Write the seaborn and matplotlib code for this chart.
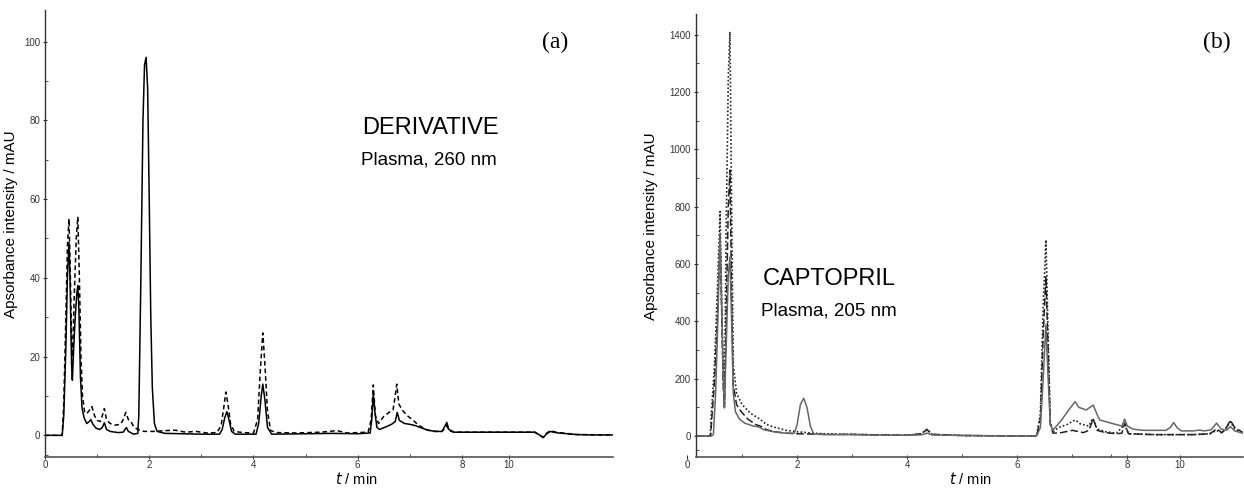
import numpy as np
import pandas as pd
import matplotlib
matplotlib.use("Agg")
import matplotlib.pyplot as plt
import seaborn as sns

# ---------------- data: panel (a) DERIVATIVE, plasma 260 nm ----------------
a_solid_t = [0.00, 0.33, 0.36, 0.40, 0.43, 0.46, 0.48, 0.51, 0.525, 0.55, 0.58, 0.61, 0.63, 0.65, 0.68,
             0.71, 0.75, 0.80, 0.85, 0.88, 0.92, 0.98, 1.05, 1.10, 1.14, 1.18, 1.25, 1.40, 1.50, 1.56,
             1.60, 1.70, 1.78, 1.80, 1.84, 1.88, 1.91, 1.94, 1.97, 2.00, 2.03, 2.06, 2.10, 2.15, 2.30,
             3.00, 3.35, 3.40, 3.45, 3.49, 3.53, 3.58, 3.65, 4.05, 4.10, 4.15, 4.18, 4.22, 4.27, 4.35,
             5.00, 5.50, 6.00, 6.24, 6.27, 6.30, 6.33, 6.37, 6.42, 6.55, 6.65, 6.72, 6.76, 6.80, 6.90,
             7.00, 7.10, 7.20, 7.35, 7.50, 7.62, 7.68, 7.71, 7.75, 7.85, 8.50, 9.00, 9.40, 9.50, 9.56,
             9.62, 9.70, 9.76, 9.85, 10.2, 10.5, 10.9]
a_solid_y = [0, 0, 5, 22, 40, 49, 40, 18, 14, 22, 30, 36, 38, 32, 15,
             7, 4.5, 3, 3.5, 4, 2.8, 1.8, 1.5, 2, 3.2, 1.5, 1.0, 0.7, 0.8, 2.0,
             1.0, 0.3, 0.5, 5, 40, 80, 94, 96, 88, 60, 30, 12, 3, 1, 0.5,
             0.3, 0.3, 1.5, 4.5, 6, 4, 1, 0.3, 0.3, 3, 10, 13, 9, 2, 0.3,
             0.4, 0.5, 0.4, 0.6, 4, 10.4, 6, 2, 1.5, 2.2, 2.8, 3.5, 5.8, 3.8, 3.0,
             2.8, 2.5, 2.0, 1.3, 1.0, 1.0, 2.5, 3.3, 1.5, 0.8, 0.8, 0.8, 0.8, 0.0, -0.6,
             0.3, 1.0, 0.8, 0.6, 0.2, 0.1, 0.1]

a_dash_t = [0.00, 0.33, 0.36, 0.40, 0.43, 0.46, 0.48, 0.51, 0.53, 0.56, 0.60, 0.63, 0.66, 0.69, 0.72,
            0.76, 0.80, 0.86, 0.90, 0.95, 1.00, 1.06, 1.10, 1.14, 1.18, 1.25, 1.35, 1.45, 1.50, 1.55,
            1.60, 1.65, 1.70, 1.78, 1.90, 2.10, 2.30, 2.50, 2.70, 2.90, 3.10, 3.30, 3.38, 3.43, 3.47,
            3.51, 3.56, 3.63, 3.80, 4.00, 4.08, 4.13, 4.18, 4.22, 4.27, 4.33, 4.45, 4.80, 5.30, 5.60,
            5.80, 6.20, 6.26, 6.30, 6.34, 6.40, 6.50, 6.60, 6.68, 6.72, 6.75, 6.79, 6.85, 6.95, 7.05,
            7.15, 7.30, 7.45, 7.62, 7.68, 7.71, 7.75, 7.85, 8.50, 9.40, 9.50, 9.56, 9.62, 9.70, 9.80,
            10.2, 10.9]
a_dash_y = [0, 0, 8, 30, 48, 55, 45, 24, 20, 35, 50, 55.5, 40, 20, 10,
            6, 5.5, 6.5, 7.3, 5, 3.8, 3.5, 5, 6.8, 4, 3.0, 2.6, 2.8, 4, 5.8,
            4, 3.5, 2.2, 1.5, 1.0, 1.0, 1.2, 1.3, 0.8, 1.0, 0.6, 0.7, 2.5, 7, 11,
            8, 3, 1, 0.7, 0.6, 4, 16, 26, 18, 6, 1.2, 0.7, 0.6, 0.8, 1.2,
            0.6, 0.8, 4, 12.8, 5, 3, 4.8, 5.8, 6.5, 10, 13, 8, 6.5, 5, 4,
            2.8, 1.5, 1.0, 1.0, 2.0, 2.5, 1.2, 0.8, 0.8, 0.8, 0.0, -0.5, 0.5, 1.2, 0.8,
            0.2, 0.1]

# ---------------- data: panel (b) CAPTOPRIL, plasma 205 nm ----------------
b_solid_t = [0.16, 0.44, 0.48, 0.52, 0.56, 0.60, 0.63, 0.66, 0.68, 0.71, 0.75, 0.78, 0.81, 0.84, 0.88,
             0.95, 1.05, 1.20, 1.30, 1.40, 1.60, 1.80, 1.95, 2.00, 2.06, 2.12, 2.18, 2.24, 2.30, 2.50,
             3.00, 3.50, 4.00, 4.25, 4.36, 4.45, 5.00, 6.00, 6.35, 6.42, 6.47, 6.52, 6.56, 6.60, 6.65,
             6.80, 6.95, 7.05, 7.12, 7.25, 7.38, 7.45, 7.50, 7.65, 7.80, 7.90, 7.95, 8.00, 8.10, 8.30,
             8.70, 8.78, 8.84, 8.90, 8.98, 9.20, 9.30, 9.40, 9.52, 9.62, 9.70, 9.80, 9.87, 9.95, 10.1]
b_solid_y = [0, 0, 5, 150, 400, 708, 450, 200, 98, 300, 560, 625, 400, 150, 85,
             60, 45, 35, 32, 22, 14, 10, 10, 40, 110, 132, 100, 35, 8, 5,
             5, 3, 3, 4, 10, 4, 2, 0, 0, 30, 200, 387, 200, 40, 21,
             55, 95, 120, 100, 91, 108, 75, 56, 48, 40, 35, 59, 35, 24, 20,
             20, 30, 47, 30, 18, 18, 21, 18, 22, 45, 25, 20, 33, 18, 10]

b_dash_t = [0.16, 0.43, 0.45, 0.50, 0.55, 0.60, 0.63, 0.66, 0.68, 0.71, 0.75, 0.78, 0.81, 0.84, 0.90,
            0.96, 1.10, 1.25, 1.33, 1.45, 1.60, 1.80, 2.00, 2.50, 3.00, 3.50, 4.00, 4.25, 4.36, 4.45,
            5.00, 6.00, 6.35, 6.42, 6.47, 6.52, 6.56, 6.60, 6.65, 6.80, 7.00, 7.20, 7.30, 7.38, 7.45,
            7.60, 7.80, 7.90, 7.95, 8.02, 8.50, 9.20, 9.50, 9.62, 9.72, 9.80, 9.87, 9.95, 10.1]
b_dash_y = [0, 0, 60, 190, 400, 700, 430, 160, 100, 400, 800, 928, 500, 180, 110,
            91, 60, 40, 35, 22, 15, 10, 8, 6, 6, 4, 3, 8, 22, 6,
            2, 0, 0, 60, 350, 555, 300, 40, 10, 12, 20, 12, 20, 60, 20,
            12, 8, 10, 45, 8, 5, 5, 8, 25, 12, 30, 55, 30, 12]

b_dot_t = [0.16, 0.42, 0.45, 0.50, 0.55, 0.60, 0.63, 0.66, 0.68, 0.71, 0.75, 0.78, 0.81, 0.84, 0.90,
           1.00, 1.15, 1.30, 1.45, 1.60, 1.80, 2.00, 2.30, 2.60, 3.00, 3.50, 4.00, 4.25, 4.36, 4.45,
           5.00, 6.00, 6.35, 6.42, 6.47, 6.52, 6.56, 6.60, 6.65, 6.75, 6.90, 7.05, 7.15, 7.30, 7.37,
           7.45, 7.60, 7.80, 7.95, 8.02, 8.50, 9.20, 9.50, 9.62, 9.72, 9.80, 9.87, 9.95, 10.1]
b_dot_y = [0, 0, 100, 250, 500, 783, 480, 200, 110, 700, 1250, 1410, 800, 250, 150,
           110, 80, 62, 40, 30, 20, 15, 10, 7, 6, 4, 3, 8, 24, 6,
           2, 0, 0, 80, 450, 684, 350, 50, 15, 30, 40, 56, 42, 35, 62,
           25, 15, 10, 40, 8, 5, 5, 8, 20, 10, 30, 50, 25, 10]

# axis tick labels (the "10" label sits where the original figure prints it)
a_xticks = [0, 2, 4, 6, 8, 8.9]
b_xticks = [0, 2, 4, 6, 8, 8.95]
xtick_labels = ["0", "2", "4", "6", "8", "10"]
a_yticks = [0, 20, 40, 60, 80, 100]
b_yticks = [0, 200, 400, 600, 800, 1000, 1200, 1400]

# ---------------- figure ----------------
sns.set_style("ticks")
plt.rcParams["font.family"] = ["Liberation Sans", "DejaVu Sans"]
plt.rcParams["text.color"] = "black"
plt.rcParams["axes.labelcolor"] = "black"

fig = plt.figure(figsize=(12.44, 4.88), dpi=100)
ax_a = fig.add_axes([45 / 1244, 31 / 488, 568 / 1244, 447 / 488])
ax_b = fig.add_axes([687 / 1244, 31 / 488, 556 / 1244, 443 / 488])


def draw(ax, t, y, color, ls, lw, dashes=None):
    df = pd.DataFrame({"t": t, "y": y})
    sns.lineplot(data=df, x="t", y="y", ax=ax, color=color, linewidth=lw,
                 estimator=None, sort=False, linestyle=ls)
    line = ax.get_lines()[-1]
    if dashes is not None:
        line.set_dashes(dashes)


# panel a
draw(ax_a, a_dash_t, a_dash_y, "black", "--", 1.1, (3, 2))
draw(ax_a, a_solid_t, a_solid_y, "black", "-", 1.1)

# panel b
draw(ax_b, b_dot_t, b_dot_y, "#222222", ":", 1.2, (1, 1.3))
draw(ax_b, b_dash_t, b_dash_y, "#222222", "--", 1.1, (5, 2))
draw(ax_b, b_solid_t, b_solid_y, "#666666", "-", 1.1)

for ax in (ax_a, ax_b):
    ax.spines["top"].set_visible(False)
    ax.spines["right"].set_visible(False)
    ax.spines["left"].set_color("#333333")
    ax.spines["bottom"].set_color("#555555")
    ax.spines["left"].set_linewidth(1.0)
    ax.spines["bottom"].set_linewidth(1.2)
    ax.tick_params(axis="both", which="major", labelsize=7, colors="#333333",
                   length=3, width=0.8, direction="inout", pad=2)
    ax.tick_params(axis="x", which="major", pad=1)
    ax.tick_params(axis="both", which="minor", length=2, width=0.6,
                   direction="in", color="#333333")
    ax.set_xlabel("$t$ / min", fontsize=10.5)
    ax.set_ylabel("Apsorbance intensity / mAU", fontsize=11)
    ax.set_facecolor("white")

ax_a.set_xlim(0, 10.9)
ax_a.set_ylim(-5.5, 108)
ax_a.set_xticks(a_xticks)
ax_a.set_xticklabels(xtick_labels)
ax_a.set_xticks([1, 3, 5, 7], minor=True)
ax_a.set_yticks(a_yticks)
ax_a.set_yticks([-5, 10, 30, 50, 70, 90], minor=True)
ax_a.xaxis.set_label_coords(0.548, -0.031)
ax_a.yaxis.set_label_coords(-0.048, 0.52)

ax_b.set_xlim(0, 10.1)
ax_b.set_ylim(-73, 1472)
ax_b.spines["left"].set_position(("data", 0.16))
ax_b.spines["bottom"].set_bounds(0.16, 10.1)
ax_b.set_xticks(b_xticks)
ax_b.set_xticklabels(xtick_labels)
ax_b.set_xticks([1, 3, 5, 7, 7.7], minor=True)
ax_b.set_yticks(b_yticks)
ax_b.set_yticks([-50, 100, 300, 500, 700, 900, 1100, 1300], minor=True)
ax_b.xaxis.set_label_coords(0.51, -0.031)
ax_b.yaxis.set_label_coords(-0.052, 0.52)

# panel letters and annotations
fig.text(555 / 1244, 1 - 42 / 488, "(a)", family=["Liberation Serif", "DejaVu Serif"],
         fontsize=17, ha="center", va="center")
fig.text(1217 / 1244, 1 - 42 / 488, "(b)", family=["Liberation Serif", "DejaVu Serif"],
         fontsize=17, ha="center", va="center")
fig.text(430 / 1244, 1 - 128 / 488, "DERIVATIVE", fontsize=17, ha="center", va="center")
fig.text(429 / 1244, 1 - 160 / 488, "Plasma, 260 nm", fontsize=13.5, ha="center", va="center")
fig.text(829 / 1244, 1 - 279 / 488, "CAPTOPRIL", fontsize=17, ha="center", va="center")
fig.text(829 / 1244, 1 - 311 / 488, "Plasma, 205 nm", fontsize=13.5, ha="center", va="center")

fig.savefig("out.png", dpi=100, facecolor="white")
